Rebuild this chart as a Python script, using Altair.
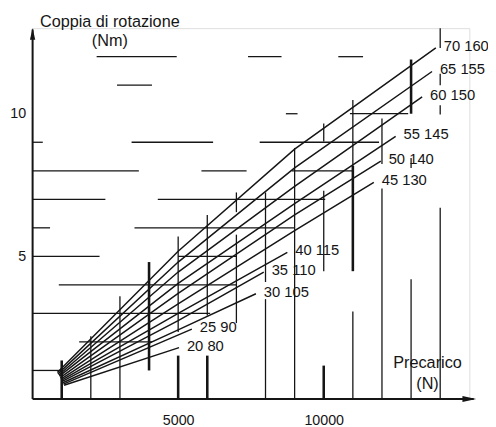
import altair as alt
import pandas as pd

FONT = "Liberation Sans"
INK = "#151515"

# ---- torque curves (Precarico N -> Coppia Nm) ----
series = ["70 160", "65 155", "60 150", "55 145", "50 140", "45 130",
          "40 115", "35 110", "30 105", "25 90", "20 80"]
x_start = [850, 870, 900, 920, 950, 970, 1000, 1020, 1040, 1060, 1080]
y_start = [0.93, 0.88, 0.84, 0.80, 0.75, 0.70, 0.66, 0.62, 0.57, 0.52, 0.48]
y_5000 = [5.18, 4.80, 4.45, 4.05, 3.70, 3.33, 3.00, 2.75, 2.42, None, None]
y_9000 = [8.76, 8.10, 7.45, 6.85, 6.45, 5.90, None, None, None, None, None]
x_end = [13850, 13720, 13380, 12470, 11960, 11720, 8750, 7940, 7670, 5470, 5030]
y_end = [12.31, 11.48, 10.59, 9.21, 8.34, 7.59, 5.14, 4.45, 3.69, 2.45, 1.80]

# ---- fragments of the printed grid ----
h_level = [12, 12, 12, 11, 10, 10, 9, 9, 9, 8, 8, 8, 7, 7, 6, 6, 5, 5, 4, 3, 2, 1]
h_from = [2200, 7400, 10500, 2900, 8700, 10900, 0, 3400, 7800, 0, 5800, 8900,
          0, 4300, 0, 3500, 0, 5000, 900, 0, 1600, 0]
h_to = [4950, 8550, 11350, 4100, 9100, 12900, 350, 6200, 11900, 3650, 7350, 11000,
        2500, 10050, 600, 9000, 2300, 7000, 7000, 6100, 4100, 1000]

v_pos = [2000, 3000, 5000, 6000, 7000, 7000, 8000, 8000, 9000, 10000, 10000,
         11000, 11000, 12000, 12000, 13000, 13000, 14000, 14000, 14000, 14000]
v_from = [0, 0, 2.35, 2.93, 2.66, 6.55, 0, 4.10, 0, 4.48, 9.03,
          0, 8.17, 0, 8.24, 0, 8.10, 0, 9.97, 11.0, 12.3]
v_to = [2.2, 3.6, 5.7, 6.45, 5.76, 7.24, 3.5, 7.24, 8.8, 7.3, 9.66,
        3.07, 10.48, 7.38, 9.83, 4.2, 8.45, 6.7, 10.3, 11.4, 13.0]

vb_pos = [1000, 4000, 5000, 6000, 10000, 11000, 13000]
vb_from = [0, 1.0, 0, 0, 0, 4.48, 10.0]
vb_to = [1.35, 4.8, 1.52, 1.52, 1.17, 8.17, 11.9]

x_ticks = [5000, 10000]
y_ticks = [5, 10]
x_axis_end = 15150
y_axis_end = 12.95
x_arrow = 15000
y_arrow = 12.8

# ---- tables ----
rows = []
for i, s in enumerate(series):
    rows.append({"series": s, "x": x_start[i], "y": y_start[i]})
    if y_5000[i] is not None:
        rows.append({"series": s, "x": 5000, "y": y_5000[i]})
    if y_9000[i] is not None:
        rows.append({"series": s, "x": 9000, "y": y_9000[i]})
    rows.append({"series": s, "x": x_end[i], "y": y_end[i]})
curves = pd.DataFrame(rows)
ends = pd.DataFrame({"series": series, "x": x_end, "y": y_end})
hseg = pd.DataFrame({"y": h_level, "x": h_from, "x2": h_to})
vseg = pd.DataFrame({"x": v_pos, "y": v_from, "y2": v_to})
vbold = pd.DataFrame({"x": vb_pos, "y": vb_from, "y2": vb_to})
axes_x = pd.DataFrame({"x": [0], "x2": [x_axis_end], "y": [0]})
axes_y = pd.DataFrame({"x": [0], "y": [0], "y2": [y_axis_end]})
arr_r = pd.DataFrame({"x": [x_arrow], "y": [0]})
arr_u = pd.DataFrame({"x": [0], "y": [y_arrow]})

xs = alt.Scale(domain=[0, 15000], nice=False, zero=False)
ys = alt.Scale(domain=[0, 13], nice=False, zero=False)

xaxis = alt.Axis(values=x_ticks, format="d", domain=False, ticks=False, grid=False,
                 labelFont=FONT, labelFontSize=14.5, labelColor=INK, labelPadding=15,
                 title=["Precarico", "(N)"], titleFont=FONT, titleFontSize=16.5,
                 titleFontWeight="normal", titleColor=INK, titleAngle=0,
                 titleX=401, titleY=-37, titleAlign="center", titleBaseline="middle",
                 titleLineHeight=21)
yaxis = alt.Axis(values=y_ticks, domain=False, ticks=False, grid=False,
                 labelFont=FONT, labelFontSize=14.5, labelColor=INK, labelPadding=7,
                 title=["Coppia di rotazione", "(Nm)"], titleFont=FONT, titleFontSize=16.5,
                 titleFontWeight="normal", titleColor=INK, titleAngle=0,
                 titleX=78, titleY=-7, titleAlign="center", titleBaseline="middle",
                 titleLineHeight=20)


def X(f):
    return alt.X(f, type="quantitative", scale=xs, axis=xaxis)


def Y(f):
    return alt.Y(f, type="quantitative", scale=ys, axis=yaxis)


grid_h = alt.Chart(hseg).mark_rule(color=INK, strokeWidth=1.3).encode(
    x=X("x"), x2="x2", y=Y("y"))
grid_v = alt.Chart(vseg).mark_rule(color=INK, strokeWidth=1.3).encode(
    x=X("x"), y=Y("y"), y2="y2")
grid_vb = alt.Chart(vbold).mark_rule(color=INK, strokeWidth=2.6).encode(
    x=X("x"), y=Y("y"), y2="y2")
lines = alt.Chart(curves).mark_line(color=INK, strokeWidth=1.5).encode(
    x=X("x"), y=Y("y"), detail="series:N", order="x:Q")
labels = alt.Chart(ends).mark_text(font=FONT, fontSize=15, color=INK, align="left",
                                   baseline="middle", dx=8, dy=-2).encode(
    x=X("x"), y=Y("y"), text="series:N")
ax_x = alt.Chart(axes_x).mark_rule(color=INK, strokeWidth=2).encode(
    x=X("x"), x2="x2", y=Y("y"))
ax_y = alt.Chart(axes_y).mark_rule(color=INK, strokeWidth=2).encode(
    x=X("x"), y=Y("y"), y2="y2")
ah_r = alt.Chart(arr_r).mark_point(shape="M-1,-0.45L1,0L-1,0.45Z", filled=True,
                                   color=INK, opacity=1, size=196).encode(x=X("x"), y=Y("y"))
ah_u = alt.Chart(arr_u).mark_point(shape="M-0.45,1L0,-1L0.45,1Z", filled=True,
                                   color=INK, opacity=1, size=144).encode(x=X("x"), y=Y("y"))

chart = alt.layer(grid_h, grid_v, grid_vb, lines, labels, ax_x, ax_y, ah_r, ah_u).properties(
    width=444, height=377, autosize="none",
    padding={"left": 25, "top": 17, "right": 19, "bottom": 25},
).configure_view(stroke=None).configure(background="white")

chart.save("out.html", embed_options={"renderer": "svg", "actions": False})
